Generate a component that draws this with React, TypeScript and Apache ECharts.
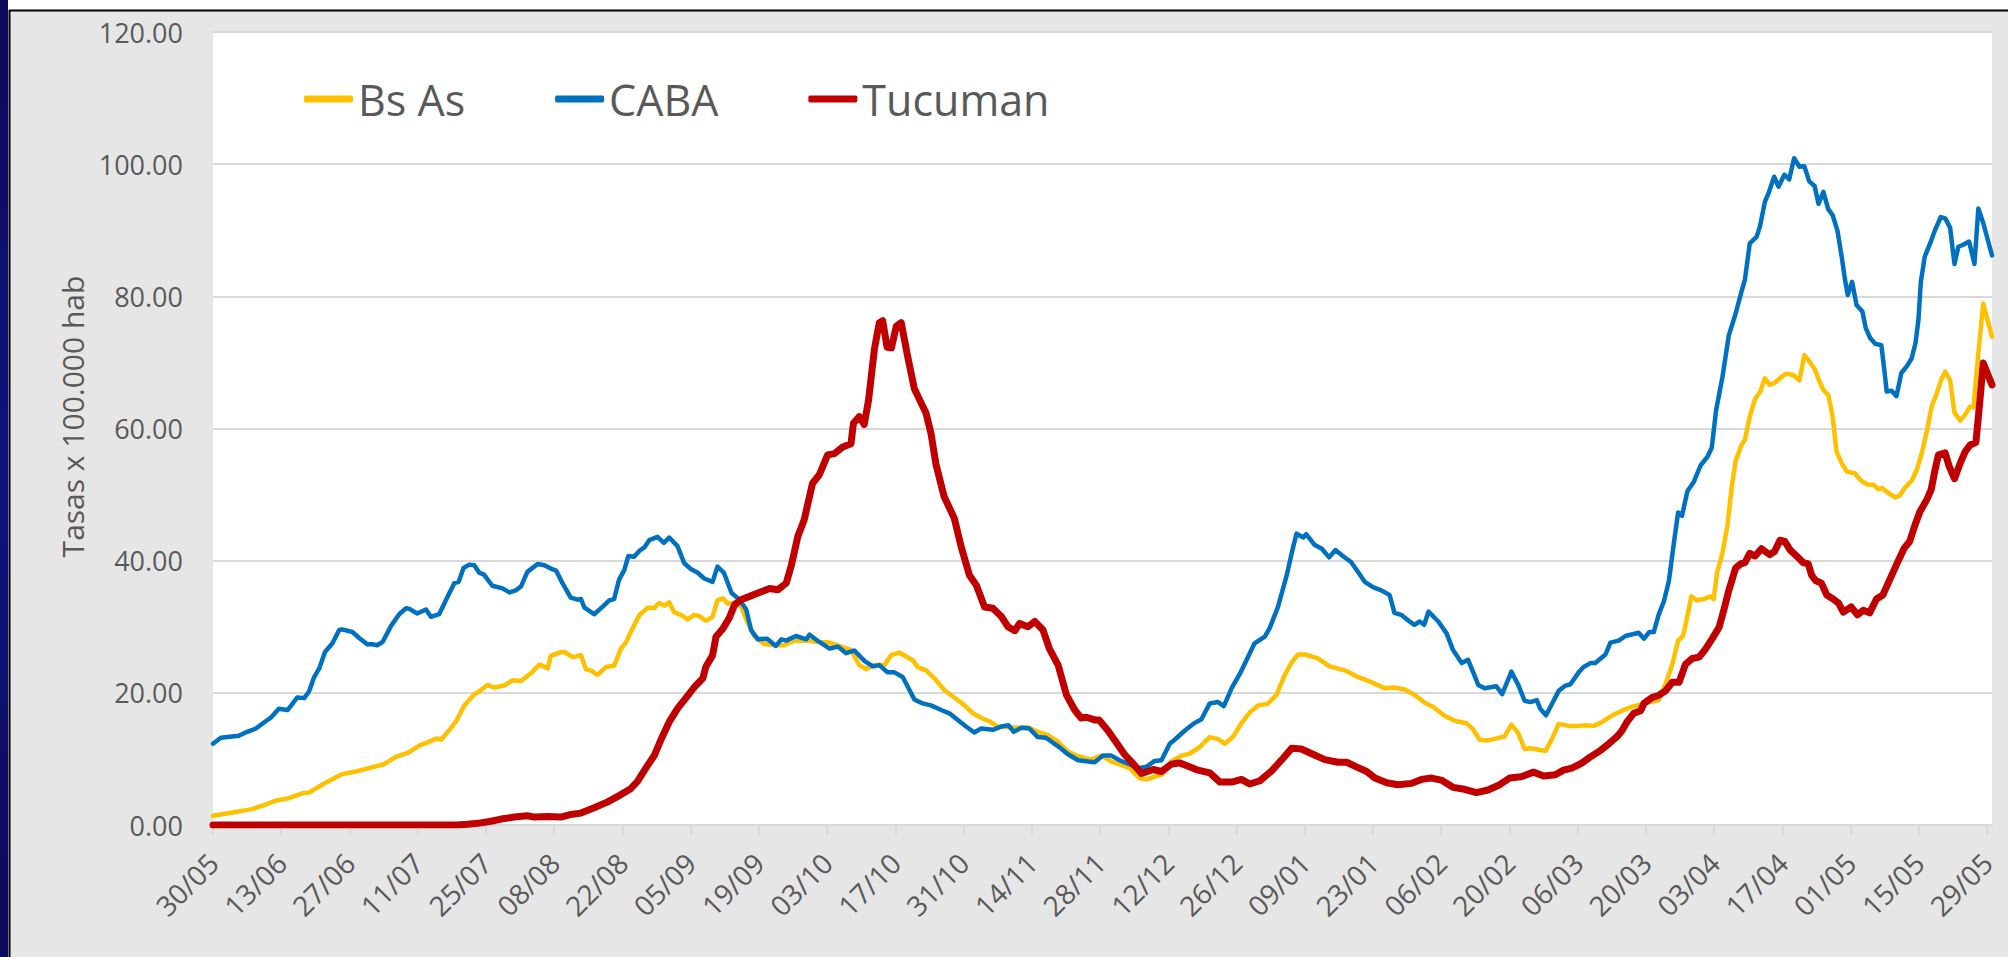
import React, { useEffect, useRef } from "react";
import * as echarts from "echarts";

// Day index counted from 30/05/2020 (day 0) to 29/05/2021 (day 364)
const startDate = Date.UTC(2020, 4, 30);
const tickDays: number[] = [0, 14, 28, 42, 56, 70, 84, 98, 112, 126, 140, 154, 168, 182, 196, 210, 224, 238, 252, 266, 280, 294, 308, 322, 336, 350, 364];
const yTicks: number[] = [0, 20, 40, 60, 80, 100, 120];
const seriesNames: string[] = ["Bs As", "CABA", "Tucuman"];

const bsAs: [number, number][] = [
  [0, 1.4], [4, 1.9], [8, 2.4], [10.8, 3.1], [12.9, 3.7], [15.3, 4.0], [18.3, 4.8], [19.7, 4.9], [23.1, 6.4], [26.5, 7.7],
  [29.3, 8.1], [32, 8.6], [35.1, 9.2], [37.5, 10.3], [39.9, 10.9], [42.3, 12.0], [44, 12.5], [45.9, 13.1], [46.8, 12.9], [48.5, 14.4],
  [49.8, 15.6], [51.5, 18.0], [53.6, 19.8], [54.6, 20.2], [56.3, 21.2], [57.7, 20.8], [59.7, 21.1], [61.5, 21.9], [63.2, 21.8], [65.3, 23.0],
  [67, 24.3], [68.7, 23.7], [69.3, 25.6], [71.1, 26.1], [72.1, 26.2], [73.8, 25.4], [75.5, 25.7], [76.5, 23.6], [77.5, 23.4], [78.9, 22.7],
  [80.6, 23.9], [82.3, 24.1], [83.7, 26.7], [84.7, 27.6], [85.7, 29.2], [87.5, 31.8], [89.2, 32.9], [90.5, 32.8], [91.5, 33.6], [92.6, 33.2],
  [93.6, 33.7], [94.6, 32.2], [96, 31.8], [97.4, 31.1], [98.7, 31.8], [99.8, 31.6], [101.1, 30.9], [102.5, 31.5], [103.5, 34.0], [104.6, 34.3],
  [105.6, 33.5], [107, 33.6], [108.3, 33.1], [109.7, 30.6], [111.1, 28.5], [113.1, 27.4], [115.2, 27.2], [117.2, 27.2], [119.3, 27.9], [122, 27.9],
  [124.1, 27.7], [126.5, 27.6], [128.9, 27.0], [130.9, 26.5], [132.6, 24.2], [134, 23.6], [135.7, 24.2], [137.8, 24.2], [139.1, 25.7], [140.8, 26.1],
  [142.2, 25.5], [143.6, 24.9], [144.6, 23.9], [146.3, 23.4], [148, 22.2], [150.1, 20.4], [152.1, 19.3], [154.2, 18.1], [155.9, 16.9], [157.9, 16.1],
  [159.3, 15.7], [161, 14.9], [163.1, 14.8], [165.1, 14.7], [167.2, 14.8], [169.2, 14.1], [171.3, 13.6], [173.4, 12.6], [175.4, 11.1], [177.5, 10.4],
  [180.2, 9.9], [182.2, 10.5], [184.3, 9.6], [186.3, 9.1], [188.1, 8.6], [190.1, 7.1], [191.5, 6.9], [193.2, 7.3], [194.9, 7.7], [196.6, 9.6],
  [198.7, 10.5], [200.4, 10.8], [202.4, 11.8], [204.5, 13.3], [206.2, 13.0], [207.6, 12.3], [209.3, 13.4], [211, 15.4], [212.7, 17.0], [214.4, 18.1],
  [216.3, 18.3], [218.2, 19.7], [219.9, 22.7], [221.3, 24.6], [222.6, 25.8], [224, 25.8], [226.7, 25.2], [229.1, 24.0], [232.2, 23.4], [234.6, 22.5],
  [237.4, 21.7], [240.4, 20.7], [242.4, 20.8], [244.5, 20.5], [246.5, 19.7], [248.6, 18.5], [250.3, 17.9], [252.7, 16.5], [255.1, 15.7], [257.2, 15.4],
  [258.5, 14.5], [259.9, 12.9], [261.6, 12.8], [263.3, 13.1], [265, 13.4], [266.4, 15.2], [267.8, 13.9], [269.1, 11.5], [270.3, 11.6], [272, 11.4],
  [273.4, 11.2], [274.7, 13.0], [276.1, 15.3], [278.2, 15.0], [280.2, 15.0], [281.6, 15.1], [283.3, 15.0], [285, 15.6], [287.1, 16.6], [289.1, 17.3],
  [291.2, 17.9], [293.2, 18.3], [295.3, 18.7], [296.6, 18.9], [298, 21.3], [299.4, 24.3], [300.6, 27.9], [301.6, 28.6], [302.3, 30.9], [303.3, 34.6],
  [304.5, 34.0], [305.9, 34.2], [307.3, 34.6], [307.9, 34.2], [308.6, 38.2], [309.7, 41.2], [310.7, 45.2], [311.6, 51.2], [312.4, 55.1], [313.6, 57.5],
  [314.3, 58.3], [315.3, 61.8], [316.4, 64.5], [317.4, 65.5], [318.4, 67.6], [319.4, 66.6], [320.4, 66.9], [321.8, 67.8], [322.8, 68.3], [324.2, 68.1],
  [325.5, 67.3], [326.5, 71.1], [327.6, 70.1], [328.7, 68.9], [329.5, 67.3], [330.4, 65.8], [331.4, 65.1], [332.3, 61.8], [333.1, 56.5], [334.2, 54.7],
  [335.2, 53.5], [336.9, 53.2], [338.3, 52.0], [339.6, 51.5], [340.7, 51.5], [341.7, 50.8], [342.5, 51.0], [343.8, 50.2], [345.1, 49.6], [346, 49.8],
  [347.1, 51.0], [348.6, 52.2], [349.6, 53.8], [350.6, 56.3], [351.7, 59.8], [352.6, 63.3], [353.7, 65.4], [354.7, 67.6], [355.4, 68.6], [356.4, 67.3],
  [357.3, 62.4], [358.5, 61.2], [359.5, 62.1], [360.5, 63.3], [361.2, 63.2], [362.2, 71.4], [363.2, 78.9], [365, 73.9],
];

const caba: [number, number][] = [
  [0, 12.3], [1.6, 13.2], [5.3, 13.5], [7, 14.1], [8.8, 14.6], [10.8, 15.7], [11.8, 16.2], [13.5, 17.6], [15.3, 17.4], [17.3, 19.3],
  [18.7, 19.2], [19.7, 20.2], [20.7, 22.3], [21.8, 23.7], [23, 26.2], [24.5, 27.5], [25.9, 29.5], [26.5, 29.6], [28.6, 29.2], [30, 28.3],
  [31.7, 27.3], [32.4, 27.4], [33.7, 27.2], [34.8, 27.7], [36.5, 30.1], [38.2, 31.9], [39.6, 32.8], [40.3, 32.7], [41.9, 32.0], [43.7, 32.6],
  [44.7, 31.5], [46.4, 31.9], [48.1, 34.5], [49.5, 36.6], [50.4, 36.8], [51.4, 38.9], [52.6, 39.4], [53.6, 39.3], [54.6, 38.2], [55.6, 37.9],
  [57.3, 36.2], [59.4, 35.8], [60.8, 35.2], [62.1, 35.5], [63.2, 36.1], [64.5, 38.3], [66.6, 39.5], [68, 39.3], [69.3, 38.8], [70.4, 38.5],
  [71.7, 36.6], [73.4, 34.4], [74.8, 34.1], [75.5, 34.2], [76.2, 32.9], [78.2, 31.9], [79.9, 33.0], [81.3, 34.0], [82.3, 34.2], [83.3, 37.1],
  [84.4, 38.6], [85.2, 40.7], [86.4, 40.6], [87.5, 41.5], [88.5, 42.0], [89.5, 43.1], [91.2, 43.6], [92.5, 42.7], [93.6, 43.5], [95.3, 42.2],
  [96.7, 39.6], [98.1, 38.7], [99.4, 38.2], [100.8, 37.3], [102.5, 36.8], [103.5, 39.1], [104.8, 38.2], [106.4, 35.1], [108, 34.1], [109.4, 32.6],
  [110.4, 29.5], [111.8, 28.1], [113.7, 28.2], [115.5, 27.1], [116.6, 28.1], [117.6, 27.9], [119.6, 28.6], [121.7, 28.1], [122.4, 28.8], [124.4, 27.7],
  [126.5, 26.7], [128.2, 27.0], [129.9, 26.0], [131.6, 26.4], [133.7, 24.8], [135.4, 24.0], [136.7, 24.2], [138.4, 23.1], [139.8, 23.1], [141.5, 22.4],
  [142.5, 21.0], [143.9, 19.0], [145.6, 18.4], [147.3, 18.1], [149.4, 17.4], [151.1, 16.9], [152.8, 15.9], [154.5, 14.9], [156.2, 14.0], [157.6, 14.6],
  [160, 14.4], [161.7, 14.9], [163.2, 15.1], [164.3, 14.1], [165.8, 14.7], [167.5, 14.6], [169.2, 13.3], [170.9, 13.2], [173.4, 11.9], [175.4, 10.7],
  [177.5, 9.8], [179.6, 9.6], [180.9, 9.5], [182.6, 10.5], [184.3, 10.5], [186, 9.8], [187.7, 9.3], [189.8, 8.6], [191.5, 8.8], [193.2, 9.7],
  [194.6, 9.8], [196.3, 12.3], [197.3, 12.9], [199.4, 14.3], [201.1, 15.3], [202.8, 16.0], [204.5, 18.4], [206.2, 18.6], [207.4, 18.0], [209, 20.7],
  [210.7, 22.9], [212.4, 25.5], [213.7, 27.5], [215.8, 28.5], [216.8, 29.8], [218.5, 33.0], [220.3, 37.8], [221.3, 41.1], [222.3, 44.1], [223.7, 43.5],
  [224.3, 44.0], [226, 42.4], [227.5, 41.8], [229, 40.5], [230.3, 41.6], [232, 40.6], [233.5, 39.8], [235, 38.2], [236.3, 36.8], [238, 36.0],
  [239.7, 35.5], [241.4, 34.8], [242.4, 32.1], [243.8, 31.8], [245.5, 30.8], [246.5, 30.3], [247.6, 30.8], [248.5, 30.3], [249.4, 32.3], [251.4, 30.8],
  [253.1, 29.0], [254.4, 26.5], [256.2, 24.5], [257.5, 25.0], [258.5, 23.2], [259.6, 21.2], [260.9, 20.7], [263.3, 21.0], [264.5, 19.8], [266.4, 23.2],
  [267.8, 21.2], [269.1, 18.8], [270.3, 18.6], [271.6, 18.9], [272.3, 17.6], [273.5, 16.6], [274.7, 18.3], [276.1, 20.3], [277.5, 21.1], [278.5, 21.3],
  [280.2, 23.1], [281.2, 23.9], [282.6, 24.5], [283.6, 24.5], [285.7, 25.8], [286.7, 27.6], [288.4, 27.9], [289.8, 28.6], [292.5, 29.1], [293.6, 28.2],
  [294.7, 29.2], [295.6, 29.2], [296.6, 31.8], [297.7, 33.9], [298.7, 36.9], [299.7, 42.5], [300.6, 47.3], [301.4, 46.8], [302.5, 50.5], [303.8, 51.9],
  [305.2, 54.4], [306.6, 55.7], [307.5, 57.1], [308.4, 62.8], [309.7, 67.8], [311, 74.1], [312.4, 77.4], [313.6, 80.7], [314.3, 82.5], [315.3, 88.0],
  [316.7, 89.0], [317.4, 90.6], [318.4, 94.3], [319.2, 95.7], [320.3, 98.1], [321.2, 96.6], [322.4, 98.4], [323.4, 97.7], [324.4, 100.9], [325.5, 99.6],
  [326.5, 99.7], [327.5, 97.4], [328.6, 96.7], [329.4, 94.0], [330.4, 95.8], [331.4, 93.2], [332.3, 92.3], [333.3, 89.9], [334.2, 85.8], [334.8, 82.7],
  [335.4, 80.2], [336.3, 82.2], [337.2, 78.7], [338.4, 77.7], [339.1, 75.2], [340, 73.7], [341.1, 72.8], [342.3, 72.6], [342.9, 68.9], [343.4, 65.6],
  [344.4, 65.7], [345.4, 64.9], [346.4, 68.4], [347.5, 69.4], [348.5, 70.6], [349.3, 72.9], [349.9, 76.4], [350.4, 82.2], [351.2, 86.0], [352.3, 88.0],
  [353.3, 90.0], [354.5, 92.0], [355.4, 91.8], [356.4, 90.4], [357.3, 84.9], [358.1, 87.5], [359.1, 87.8], [360.3, 88.3], [361.4, 84.9], [362.2, 93.3],
  [363.2, 91.1], [365, 86.2],
];

const tucuman: [number, number][] = [
  [0, 0], [50, 0], [52.2, 0.1], [54.3, 0.25], [57.3, 0.6], [59.1, 0.9], [61.8, 1.2], [64.5, 1.4], [65.9, 1.2], [68.7, 1.3],
  [71.4, 1.2], [73.4, 1.6], [75.5, 1.8], [78.2, 2.6], [81, 3.5], [83.7, 4.6], [85.7, 5.5], [87.1, 6.6], [88.8, 8.6], [90.6, 10.6],
  [91.9, 12.9], [93.6, 15.6], [95.3, 17.6], [97, 19.2], [98.8, 20.9], [100.5, 22.2], [101.1, 23.9], [102.5, 25.7], [103.2, 28.5], [104.6, 29.7],
  [105.9, 31.3], [107, 33.3], [108.3, 34.1], [110.1, 34.6], [111.8, 35.1], [114.2, 35.8], [115.9, 35.6], [117.6, 36.6], [118.6, 39.1], [120, 43.7],
  [121.3, 46.2], [123, 51.7], [124.4, 53.0], [126.1, 56.0], [127.5, 56.2], [129.2, 57.2], [130.9, 57.7], [131.4, 60.8], [132.6, 61.8], [133.6, 60.6],
  [134.5, 64.3], [135.7, 72], [136.7, 76], [137.4, 76.3], [138.3, 72.3], [139.2, 72.2], [140.2, 75.5], [141.2, 76], [142.5, 71], [143.9, 66],
  [146.3, 62.3], [147.3, 59.3], [148.3, 54.7], [150, 49.7], [152.1, 46.4], [153.5, 42.1], [155.2, 37.8], [156.6, 36.3], [158.3, 33.0], [160, 32.8],
  [161.7, 31.6], [163.1, 30.0], [164.5, 29.4], [165.5, 30.5], [167.2, 30.0], [168.6, 30.8], [170.3, 29.5], [171.6, 26.7], [173.4, 24.2], [175.1, 19.7],
  [176.8, 17.4], [178.1, 16.2], [179.2, 16.3], [180.9, 15.9], [181.8, 15.9], [183.6, 14.3], [185.4, 12.4], [187.1, 10.6], [188.4, 9.6], [190.5, 7.8],
  [192.9, 8.4], [194.6, 8.1], [196.6, 9.2], [198.3, 9.4], [200.1, 8.9], [202.1, 8.3], [204.5, 7.9], [206.6, 6.5], [209, 6.5], [211, 6.9],
  [212.7, 6.2], [214.8, 6.7], [217.2, 8.2], [219.2, 9.8], [221.3, 11.6], [223.3, 11.5], [226, 10.6], [228.1, 9.9], [230.8, 9.5], [232.6, 9.5],
  [234.6, 8.8], [236.7, 8.1], [238.4, 7.1], [240.8, 6.4], [243.1, 6.1], [245.9, 6.3], [247.9, 6.9], [250, 7.1], [252, 6.8], [254.4, 5.7],
  [256.8, 5.4], [259.2, 4.9], [261.6, 5.3], [264, 6.1], [266, 7.1], [268.4, 7.3], [270.9, 8.0], [273, 7.4], [275.4, 7.6], [277.1, 8.3],
  [278.8, 8.6], [280.9, 9.4], [282.6, 10.3], [284.7, 11.3], [286.4, 12.3], [288.1, 13.4], [289.1, 14.3], [290.1, 15.6], [291.5, 16.9], [292.9, 17.3],
  [293.6, 18.4], [295.3, 19.3], [296.6, 19.6], [298, 20.3], [299.4, 21.6], [300.8, 21.6], [302.1, 24.3], [303.5, 25.2], [304.9, 25.4], [306.2, 26.6],
  [307.6, 28.2], [309, 29.9], [310, 32.6], [311, 35.5], [312.4, 38.9], [313.4, 39.5], [314.3, 39.7], [315.3, 41.1], [316.4, 40.7], [317.7, 41.8],
  [319.4, 40.9], [320.4, 41.4], [321.5, 43.1], [322.5, 42.9], [323.6, 41.6], [324.9, 40.7], [326.3, 39.7], [327.3, 39.5], [328, 37.8], [328.8, 37.0],
  [330, 36.6], [331.1, 34.8], [332.4, 34.2], [333.5, 33.6], [334.5, 32.2], [336.1, 33.0], [337.4, 31.8], [338.6, 32.5], [339.9, 32.1], [341.3, 34.2],
  [342.6, 34.8], [344, 37.1], [345.4, 39.4], [347, 41.9], [348.1, 42.9], [349.2, 45.4], [350.2, 47.4], [351.6, 49.2], [352.5, 50.7], [353.3, 53.7],
  [354, 56.0], [355.4, 56.3], [356.2, 54.3], [357.3, 52.4], [358.5, 54.8], [359.5, 56.5], [360.5, 57.5], [361.7, 57.9], [362.4, 63.3], [363.2, 69.9],
  [365, 66.6],
];

const colors: string[] = ["#FFC000", "#0070C0", "#C00000"];
const widths: number[] = [4.5, 4.5, 7];
const FONT = "'Open Sans', 'Noto Sans', sans-serif";
const TXT = "#595959";

function dayLabel(d: number): string {
  const t = new Date(startDate + Math.round(d) * 86400000);
  const dd = String(t.getUTCDate()).padStart(2, "0");
  const mm = String(t.getUTCMonth() + 1).padStart(2, "0");
  return dd + "/" + mm;
}

export default function App() {
  const ref = useRef<HTMLDivElement>(null);
  useEffect(() => {
    if (!ref.current) return;
    const chart = echarts.init(ref.current, null, { renderer: "svg" });
    const data = [bsAs, caba, tucuman];
    chart.setOption({
      animation: false,
      backgroundColor: "#E7E6E6",
      textStyle: { fontFamily: FONT },
      grid: {
        left: 213,
        top: 32,
        right: 16,
        bottom: 132,
        show: true,
        backgroundColor: "#FFFFFF",
        borderWidth: 0,
      },
      legend: {
        data: seriesNames,
        left: 299,
        top: 69,
        icon: "roundRect",
        itemWidth: 49,
        itemHeight: 7,
        itemGap: 90,
        textStyle: { fontSize: 43, color: TXT, fontFamily: FONT, lineHeight: 50 },
      },
      xAxis: {
        type: "value",
        min: 0,
        max: 365,
        interval: 14,
        splitLine: { show: false },
        axisLine: { show: true, lineStyle: { color: "#D9D9D9", width: 2 } },
        axisTick: { show: true, length: 10, lineStyle: { color: "#D9D9D9", width: 2 }, customValues: tickDays },
        axisLabel: {
          rotate: 45,
          margin: 33,
          fontSize: 28,
          color: TXT,
          fontFamily: FONT,
          customValues: tickDays,
          formatter: (v: number) => (Math.abs(v % 14) < 1e-6 && v <= 364 ? dayLabel(v) : ""),
        },
      },
      yAxis: {
        type: "value",
        min: 0,
        max: 120,
        interval: 20,
        name: "Tasas x 100.000 hab",
        nameLocation: "middle",
        nameGap: 125,
        nameRotate: 90,
        nameTextStyle: { fontSize: 30, color: TXT, fontFamily: FONT, padding: [0, 0, 0, 24] },
        axisLine: { show: false },
        axisTick: { show: false },
        splitLine: { lineStyle: { color: "#D9D9D9", width: 2 } },
        axisLabel: {
          margin: 30,
          fontSize: 27,
          color: TXT,
          fontFamily: FONT,
          formatter: (v: number) => (yTicks.indexOf(v) >= 0 ? v.toFixed(2) : ""),
        },
      },
      series: seriesNames.map((name, i) => ({
        name,
        type: "line",
        data: data[i],
        showSymbol: false,
        symbol: "none",
        color: colors[i],
        lineStyle: { color: colors[i], width: widths[i], cap: "round", join: "round" },
        z: 2 + i,
      })),
      graphic: [
        { type: "rect", shape: { x: 0, y: 0, width: 2008, height: 10 }, style: { fill: "#FFFFFF" }, z: 100 },
        {
          type: "rect",
          shape: { x: 0, y: 0, width: 8, height: 957 },
          style: {
            fill: new echarts.graphic.LinearGradient(0, 0, 0, 1, [
              { offset: 0, color: "#0A0A5C" },
              { offset: 0.5, color: "#12127A" },
              { offset: 1, color: "#0A0A5C" },
            ]),
          },
          z: 101,
        },
        { type: "line", shape: { x1: 9.5, y1: 10, x2: 9.5, y2: 957 }, style: { stroke: "#000000", lineWidth: 2 }, z: 102 },
        { type: "line", shape: { x1: 9, y1: 10.5, x2: 2008, y2: 10.5 }, style: { stroke: "#000000", lineWidth: 2 }, z: 102 },
      ],
    });
    return () => chart.dispose();
  }, []);
  return (
    <div
      ref={ref}
      style={{ position: "fixed", left: 0, top: 0, width: 2008, height: 957 }}
    />
  );
}
